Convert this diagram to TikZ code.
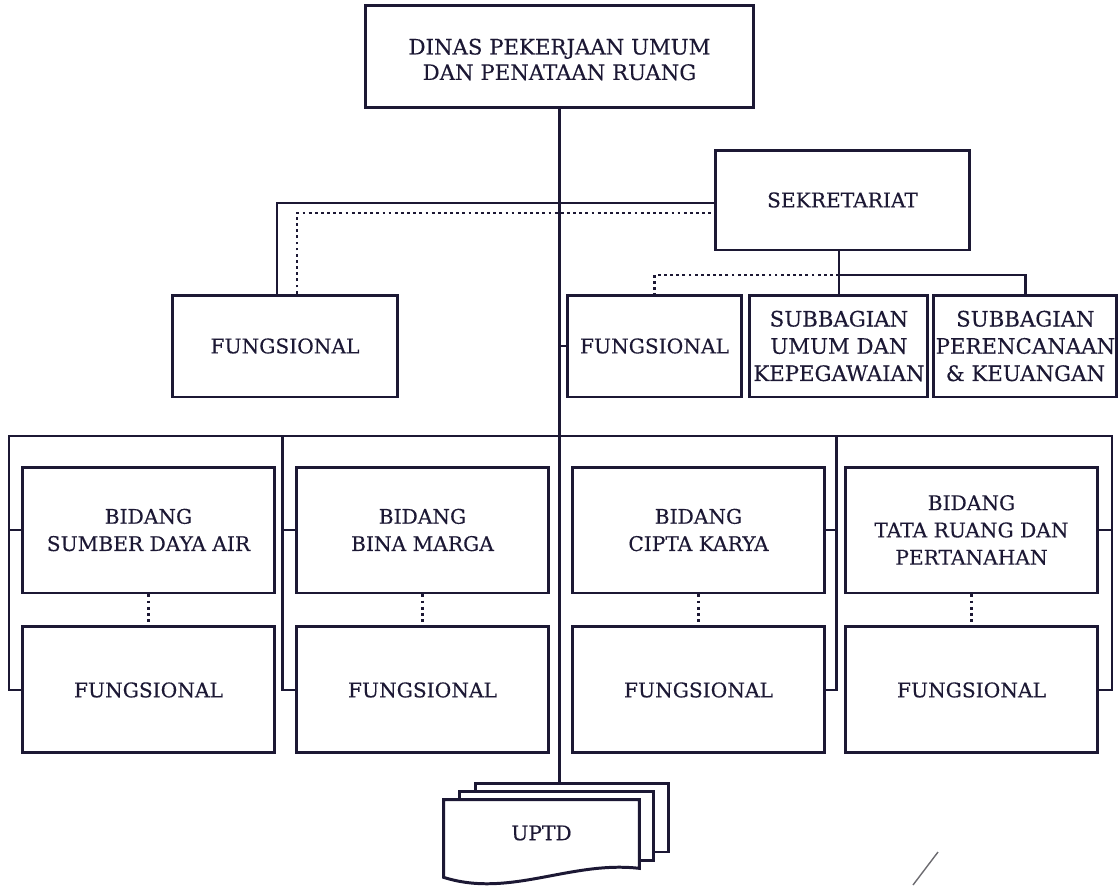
\documentclass[tikz,border=0pt]{standalone}
\usepackage{fontspec}
\setmainfont{DejaVu Serif}[FakeBold=0.3]
\usetikzlibrary{positioning, calc}
\definecolor{inkblue}{RGB}{28, 24, 52}

\begin{document}
\begin{tikzpicture}[x=0.02cm, y=-0.02cm,
      orgbox/.style={draw=inkblue, line width=1.7pt, text=inkblue, align=center, inner sep=1pt, font=\fontsize{11.5}{15.5}\selectfont},
      bigtext/.style={font=\fontsize{12.1}{15.5}\selectfont},
      bidangbox/.style={orgbox, minimum width=5.06cm, minimum height=2.52cm},
      pagebox/.style={draw=inkblue, fill=white, line width=1.7pt, minimum width=3.88cm, minimum height=1.38cm},
      conn/.style={draw=inkblue, line width=1.4pt},
      dotline/.style={draw=inkblue, line width=1.4pt, dash pattern=on 1.6pt off 1.9pt}
    ]
      \useasboundingbox (0,0) rectangle (1119,886);

      % top and secretariat
      \node [orgbox, bigtext, minimum width=7.78cm, minimum height=2.06cm] (dinas) at (559.5,56.5) {\raisebox{-6pt}[0pt][0pt]{\begin{tabular}{@{}c@{}}DINAS PEKERJAAN UMUM\\[-1pt]DAN PENATAAN RUANG\end{tabular}}};
      \node [orgbox, minimum width=5.1cm, minimum height=2cm] (sekre) at (842.5,200) {SEKRETARIAT};
      \node [orgbox, minimum width=4.52cm, minimum height=2.04cm] (fungL) at (285,346) {FUNGSIONAL};
      \node [orgbox, minimum width=3.5cm, minimum height=2.04cm] (fungS) at (654.5,346) {FUNGSIONAL};
      \node [orgbox, bigtext, minimum width=3.56cm, minimum height=2.04cm, right=0.1cm of fungS] (subUmum) {SUBBAGIAN\\UMUM DAN\\KEPEGAWAIAN};
      \node [orgbox, bigtext, minimum width=3.62cm, minimum height=2.04cm, right=0.06cm of subUmum] (subRen) {SUBBAGIAN\\PERENCANAAN\\\& KEUANGAN};

      % bidang row
      \node [bidangbox] (bSda) at (148.5,530) {BIDANG\\SUMBER DAYA AIR};
      \node [bidangbox] (bMarga) at (422.5,530) {BIDANG\\BINA MARGA};
      \node [bidangbox] (bCipta) at (698.5,530) {BIDANG\\CIPTA KARYA};
      \node [bidangbox] (bTata) at (971.5,530) {BIDANG\\TATA RUANG DAN\\PERTANAHAN};
      \node [bidangbox, below=0.62cm of bSda] (fSda) {FUNGSIONAL};
      \node [bidangbox, below=0.62cm of bMarga] (fMarga) {FUNGSIONAL};
      \node [bidangbox, below=0.62cm of bCipta] (fCipta) {FUNGSIONAL};
      \node [bidangbox, below=0.62cm of bTata] (fTata) {FUNGSIONAL};

      % UPTD stack
      \node [pagebox] (uptdBack) at (572,817.5) {};
      \node [pagebox] (uptdMid) at (556.5,826) {};
      \node [minimum width=3.9cm, minimum height=1.36cm, inner sep=0pt] (uptd) at (541.5,834) {};
      \draw [draw=inkblue, fill=white, line width=1.7pt] (uptd.north west) -- (uptd.north east) -- (uptd.south east)
        .. controls ($(uptd.south east)+(-69,-8)$) and ($(uptd.south west)+(66,30)$) .. ($(uptd.south west)+(0,9)$) -- cycle;
      \node [text=inkblue, font=\fontsize{11.5}{15.5}\selectfont] at ($(uptd.center)+(0,-1)$) {UPTD};

      % main line
      \draw [conn] (dinas.south) -- (dinas.south |- uptdBack.north);
      \draw [conn] (fungS.west) -- (fungS.west -| dinas.south);

      % secretariat links
      \draw [conn] ($(fungL.north)+(-8,0)$) |- ($(sekre.west)+(0,3)$);
      \draw [dotline] ($(fungL.north)+(12,0)$) |- ($(sekre.west)+(0,13)$);
      \coordinate (sekreJoin) at (840,275);
      \draw [conn] (sekre.south -| subUmum.north) -- (subUmum.north);
      \draw [conn] (subUmum.north |- sekreJoin) -| (subRen.north);
      \draw [dotline] (subUmum.north |- sekreJoin) -| (fungS.north);

      % bidang bus
      \coordinate (busL) at (9,436);
      \coordinate (busR) at (1112,436);
      \draw [conn] (fSda.west) -| (busL) -- (busR) |- (fTata.east);
      \draw [conn] (bSda.west) -- (bSda.west -| busL);
      \draw [conn] (bTata.east) -- (bTata.east -| busR);
      \draw [conn] (fMarga.west) -- ++(-12,0) coordinate (colB) -- (colB |- busL);
      \draw [conn] (bMarga.west) -- (bMarga.west -| colB);
      \draw [conn] (fCipta.east) -- ++(10,0) coordinate (colC) -- (colC |- busR);
      \draw [conn] (bCipta.east) -- (bCipta.east -| colC);

      \draw [dotline] (bSda) -- (fSda);
      \draw [dotline] (bMarga) -- (fMarga);
      \draw [dotline] (bCipta) -- (fCipta);
      \draw [dotline] (bTata) -- (fTata);

      \draw [gray!80!inkblue, line width=0.8pt] (913,885) -- (938,852);
    \end{tikzpicture}
\end{document}
